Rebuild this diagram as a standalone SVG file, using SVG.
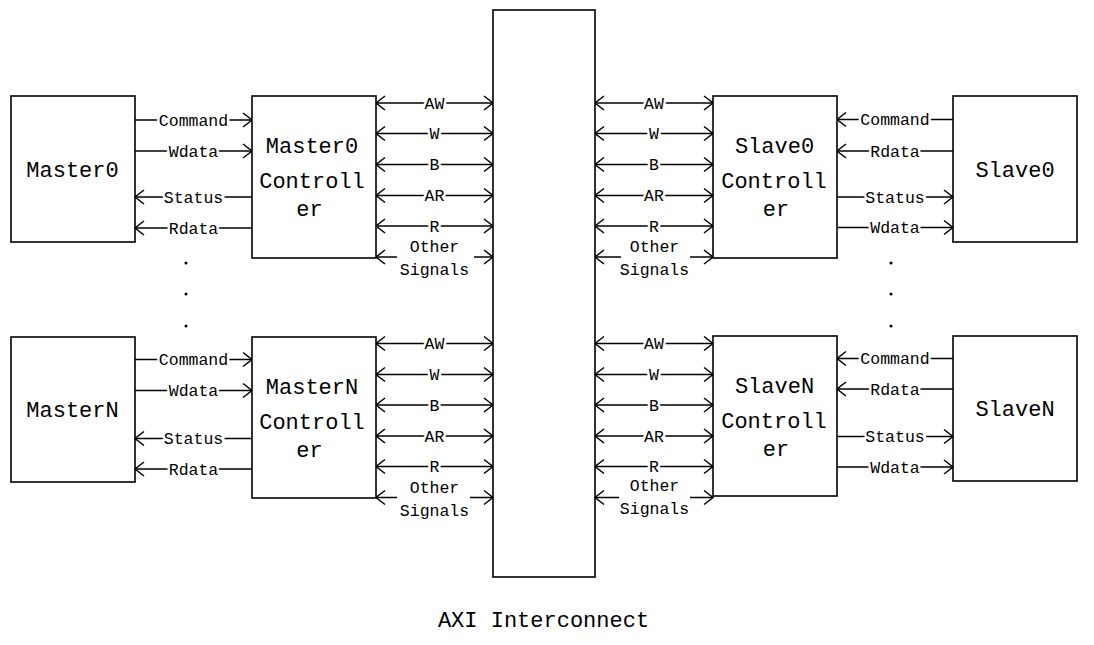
<svg xmlns="http://www.w3.org/2000/svg" width="1094" height="645" viewBox="0 0 1094 645">
<style>
.box{fill:#fff;stroke:#000;stroke-width:1.6}
.big{font-family:"Liberation Mono","DejaVu Sans Mono",monospace;font-size:22px;fill:#000;text-anchor:middle}
.lbl{font-family:"Liberation Mono","DejaVu Sans Mono",monospace;font-size:16.5px;fill:#000;text-anchor:middle}
.gap{stroke:#fff;stroke-width:5px;paint-order:stroke}
.ln{stroke:#000;stroke-width:1.5;fill:none}
.end{marker-end:url(#ah)}
.both{marker-start:url(#ahs);marker-end:url(#ah)}
.st{marker-start:url(#ahs)}
</style>
<defs>
<marker id="ah" markerUnits="userSpaceOnUse" viewBox="-11 -9 13 18" refX="0" refY="0" markerWidth="13" markerHeight="18" orient="auto">
<path d="M-9,-7 L0,0 L-9,7" fill="none" stroke="#000" stroke-width="1.5"/>
</marker>
<marker id="ahs" markerUnits="userSpaceOnUse" viewBox="-11 -9 13 18" refX="0" refY="0" markerWidth="13" markerHeight="18" orient="auto-start-reverse">
<path d="M-9,-7 L0,0 L-9,7" fill="none" stroke="#000" stroke-width="1.5"/>
</marker>
</defs>
<rect width="1094" height="645" fill="#fff"/>

<g id="connectors">
<!-- Master0 side -->
<line class="ln end" x1="135" y1="120" x2="252" y2="120"/>
<line class="ln end" x1="135" y1="151" x2="252" y2="151"/>
<line class="ln end" x1="252" y1="197" x2="135" y2="197"/>
<line class="ln end" x1="252" y1="228" x2="135" y2="228"/>
<text class="lbl gap" x="193.5" y="125.5">Command</text>
<text class="lbl gap" x="193.5" y="156.5">Wdata</text>
<text class="lbl gap" x="193.5" y="202.5">Status</text>
<text class="lbl gap" x="193.5" y="233.5">Rdata</text>
<!-- MasterN side -->
<line class="ln end" x1="135" y1="359.5" x2="252" y2="359.5"/>
<line class="ln end" x1="135" y1="390.5" x2="252" y2="390.5"/>
<line class="ln end" x1="252" y1="438.5" x2="135" y2="438.5"/>
<line class="ln end" x1="252" y1="469" x2="135" y2="469"/>
<text class="lbl gap" x="193.5" y="365">Command</text>
<text class="lbl gap" x="193.5" y="396">Wdata</text>
<text class="lbl gap" x="193.5" y="444">Status</text>
<text class="lbl gap" x="193.5" y="474.5">Rdata</text>
<!-- Slave0 side -->
<line class="ln end" x1="953" y1="119.5" x2="837" y2="119.5"/>
<line class="ln end" x1="953" y1="151" x2="837" y2="151"/>
<line class="ln end" x1="837" y1="197" x2="953" y2="197"/>
<line class="ln end" x1="837" y1="227.5" x2="953" y2="227.5"/>
<text class="lbl gap" x="895" y="125">Command</text>
<text class="lbl gap" x="895" y="156.5">Rdata</text>
<text class="lbl gap" x="895" y="202.5">Status</text>
<text class="lbl gap" x="895" y="233">Wdata</text>
<!-- SlaveN side -->
<line class="ln end" x1="953" y1="358.5" x2="837" y2="358.5"/>
<line class="ln end" x1="953" y1="389" x2="837" y2="389"/>
<line class="ln end" x1="837" y1="436.5" x2="953" y2="436.5"/>
<line class="ln end" x1="837" y1="467" x2="953" y2="467"/>
<text class="lbl gap" x="895" y="364">Command</text>
<text class="lbl gap" x="895" y="394.5">Rdata</text>
<text class="lbl gap" x="895" y="442">Status</text>
<text class="lbl gap" x="895" y="472.5">Wdata</text>

<!-- Bus: Master0 controller to interconnect -->
<line class="ln both" x1="376" y1="103" x2="493" y2="103"/>
<line class="ln both" x1="376" y1="133.5" x2="493" y2="133.5"/>
<line class="ln both" x1="376" y1="164.5" x2="493" y2="164.5"/>
<line class="ln both" x1="376" y1="195.5" x2="493" y2="195.5"/>
<line class="ln both" x1="376" y1="226" x2="493" y2="226"/>
<line class="ln st" x1="376" y1="257" x2="397" y2="257"/>
<line class="ln end" x1="474" y1="257" x2="493" y2="257"/>
<text class="lbl gap" x="434.5" y="108.5">AW</text>
<text class="lbl gap" x="434.5" y="139">W</text>
<text class="lbl gap" x="434.5" y="170">B</text>
<text class="lbl gap" x="434.5" y="201">AR</text>
<text class="lbl gap" x="434.5" y="231.5">R</text>
<text class="lbl" x="434.5" y="252">Other</text>
<text class="lbl" x="434.5" y="275">Signals</text>
<!-- Bus: MasterN controller to interconnect -->
<line class="ln both" x1="376" y1="343.5" x2="493" y2="343.5"/>
<line class="ln both" x1="376" y1="374.5" x2="493" y2="374.5"/>
<line class="ln both" x1="376" y1="405" x2="493" y2="405"/>
<line class="ln both" x1="376" y1="436" x2="493" y2="436"/>
<line class="ln both" x1="376" y1="466.5" x2="493" y2="466.5"/>
<line class="ln st" x1="376" y1="497.5" x2="397" y2="497.5"/>
<line class="ln end" x1="470" y1="497.5" x2="493" y2="497.5"/>
<text class="lbl gap" x="434.5" y="349">AW</text>
<text class="lbl gap" x="434.5" y="380">W</text>
<text class="lbl gap" x="434.5" y="410.5">B</text>
<text class="lbl gap" x="434.5" y="441.5">AR</text>
<text class="lbl gap" x="434.5" y="472">R</text>
<text class="lbl" x="434.5" y="492.5">Other</text>
<text class="lbl" x="434.5" y="515.5">Signals</text>
<!-- Bus: interconnect to Slave0 controller -->
<line class="ln both" x1="595" y1="103" x2="713" y2="103"/>
<line class="ln both" x1="595" y1="133.5" x2="713" y2="133.5"/>
<line class="ln both" x1="595" y1="164.5" x2="713" y2="164.5"/>
<line class="ln both" x1="595" y1="195.5" x2="713" y2="195.5"/>
<line class="ln both" x1="595" y1="226" x2="713" y2="226"/>
<line class="ln st" x1="595" y1="257" x2="621" y2="257"/>
<line class="ln end" x1="690" y1="257" x2="713" y2="257"/>
<text class="lbl gap" x="654" y="108.5">AW</text>
<text class="lbl gap" x="654" y="139">W</text>
<text class="lbl gap" x="654" y="170">B</text>
<text class="lbl gap" x="654" y="201">AR</text>
<text class="lbl gap" x="654" y="231.5">R</text>
<text class="lbl" x="654.5" y="252">Other</text>
<text class="lbl" x="654.5" y="275">Signals</text>
<!-- Bus: interconnect to SlaveN controller -->
<line class="ln both" x1="595" y1="343.5" x2="713" y2="343.5"/>
<line class="ln both" x1="595" y1="374.5" x2="713" y2="374.5"/>
<line class="ln both" x1="595" y1="405" x2="713" y2="405"/>
<line class="ln both" x1="595" y1="436" x2="713" y2="436"/>
<line class="ln both" x1="595" y1="466.5" x2="713" y2="466.5"/>
<line class="ln st" x1="595" y1="497.5" x2="619" y2="497.5"/>
<line class="ln end" x1="690" y1="497.5" x2="713" y2="497.5"/>
<text class="lbl gap" x="654" y="349">AW</text>
<text class="lbl gap" x="654" y="380">W</text>
<text class="lbl gap" x="654" y="410.5">B</text>
<text class="lbl gap" x="654" y="441.5">AR</text>
<text class="lbl gap" x="654" y="472">R</text>
<text class="lbl" x="654.5" y="490.5">Other</text>
<text class="lbl" x="654.5" y="513.5">Signals</text>
</g>

<g id="ellipsis">
<circle cx="186" cy="263" r="1.5" fill="#000"/>
<circle cx="186" cy="294" r="1.5" fill="#000"/>
<circle cx="186" cy="326" r="1.5" fill="#000"/>
<circle cx="891" cy="263" r="1.5" fill="#000"/>
<circle cx="891" cy="294" r="1.5" fill="#000"/>
<circle cx="891" cy="326" r="1.5" fill="#000"/>
</g>

<g id="master0">
<rect class="box" x="11" y="96" width="124" height="146"/>
<text class="big" x="72.5" y="177">Master0</text>
</g>
<g id="master0-controller">
<rect class="box" x="252" y="96" width="124" height="162"/>
<text class="big" x="312" y="153">Master0</text>
<text class="big" x="312" y="188">Controll</text>
<text class="big" x="309.5" y="215.5">er</text>
</g>
<g id="masterN">
<rect class="box" x="11" y="337" width="124" height="145"/>
<text class="big" x="72.5" y="416.5">MasterN</text>
</g>
<g id="masterN-controller">
<rect class="box" x="252" y="337" width="124" height="161"/>
<text class="big" x="312" y="394">MasterN</text>
<text class="big" x="312" y="429">Controll</text>
<text class="big" x="309.5" y="456.5">er</text>
</g>
<g id="axi-interconnect">
<rect class="box" x="493" y="10" width="102" height="567"/>
<text class="big" x="543.5" y="627">AXI Interconnect</text>
</g>
<g id="slave0-controller">
<rect class="box" x="713" y="96" width="124" height="162"/>
<text class="big" x="774.5" y="153">Slave0</text>
<text class="big" x="774" y="188">Controll</text>
<text class="big" x="776" y="215.5">er</text>
</g>
<g id="slave0">
<rect class="box" x="953" y="96" width="124" height="146"/>
<text class="big" x="1015" y="177">Slave0</text>
</g>
<g id="slaveN-controller">
<rect class="box" x="713" y="336" width="124" height="160"/>
<text class="big" x="774.5" y="393">SlaveN</text>
<text class="big" x="774" y="428">Controll</text>
<text class="big" x="776" y="455.5">er</text>
</g>
<g id="slaveN">
<rect class="box" x="953" y="336" width="124" height="145"/>
<text class="big" x="1015" y="415.5">SlaveN</text>
</g>
</svg>
